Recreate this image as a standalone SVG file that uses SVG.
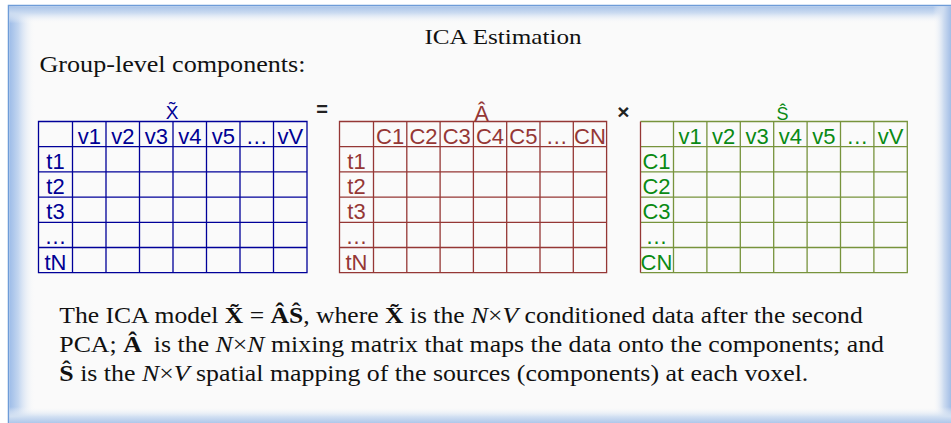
<svg xmlns="http://www.w3.org/2000/svg" width="951" height="423" viewBox="0 0 951 423">
<defs>
<linearGradient id="gL" x1="0" y1="0" x2="1" y2="0"><stop offset="0" stop-color="#9DBCE8"/><stop offset="0.35" stop-color="#C3D6F0"/><stop offset="1" stop-color="#FAFAFA" stop-opacity="0"/></linearGradient>
<linearGradient id="gT" x1="0" y1="0" x2="0" y2="1"><stop offset="0" stop-color="#A9C3E8"/><stop offset="0.4" stop-color="#CCDCF1"/><stop offset="1" stop-color="#FAFAFA" stop-opacity="0"/></linearGradient>
<linearGradient id="gR" x1="0" y1="0" x2="1" y2="0"><stop offset="0" stop-color="#FAFAFA" stop-opacity="0"/><stop offset="0.6" stop-color="#CCDBF0"/><stop offset="1" stop-color="#A3BEE6"/></linearGradient>
<linearGradient id="gB" x1="0" y1="0" x2="0" y2="1"><stop offset="0" stop-color="#FAFAFA" stop-opacity="0"/><stop offset="0.6" stop-color="#D2E0F2"/><stop offset="1" stop-color="#AFC7EA"/></linearGradient>
</defs>
<style>
.cell{font-family:"Liberation Sans Narrow","Liberation Sans",Arial,sans-serif;font-stretch:condensed;font-size:22px;text-anchor:middle}
.blue{fill:#000094}
.red{fill:#953735}
.green{fill:#0A8A14}
.gb{fill:none;stroke:#000099;stroke-width:1.3}
.gr{fill:none;stroke:#953735;stroke-width:1.3}
.gg{fill:none;stroke:#77933C;stroke-width:1.3}
.sym{font-family:"Liberation Sans",Arial,sans-serif;text-anchor:middle}
.serif{font-family:"Liberation Serif","Times New Roman",serif;fill:#111}
</style>
<rect x="0" y="0" width="951" height="423" fill="#FFFFFF"/>
<g id="frame">
<rect x="8.5" y="5.5" width="960" height="430" fill="#FAFAFA" stroke="#6E9CD8" stroke-width="1.5"/>
<rect x="9.3" y="6.3" width="26" height="417" fill="url(#gL)"/>
<rect x="9.3" y="6.3" width="942" height="17" fill="url(#gT)"/>
<rect x="933" y="6.3" width="18" height="417" fill="url(#gR)"/>
<rect x="9.3" y="407" width="942" height="16" fill="url(#gB)"/>
</g>
<g id="title">
<text class="serif" x="503" y="43.5" font-size="22" text-anchor="middle" textLength="157" lengthAdjust="spacingAndGlyphs">ICA Estimation</text>
</g>
<g id="subtitle">
<text class="serif" x="39.5" y="71.5" font-size="24" textLength="266" lengthAdjust="spacingAndGlyphs">Group-level components:</text>
</g>
<g id="matrix-X">
<text class="sym blue" x="172" y="118.5" font-size="19">X̃</text>
<path class="gb" d="M38.5,121.5H307V272.7H38.5Z M72.5,121.5V272.7 M106,121.5V272.7 M139.5,121.5V272.7 M173,121.5V272.7 M206.5,121.5V272.7 M240,121.5V272.7 M273.5,121.5V272.7 M38.5,146.7H307 M38.5,171.9H307 M38.5,197.1H307 M38.5,222.3H307 M38.5,247.5H307"/>
<g class="cell blue">
<text x="89.25" y="143.7">v1</text><text x="122.75" y="143.7">v2</text><text x="156.25" y="143.7">v3</text><text x="189.75" y="143.7">v4</text><text x="223.25" y="143.7">v5</text><text x="256.75" y="143.7">…</text><text x="290.25" y="143.7">vV</text>
<text x="55.5" y="168.8">t1</text><text x="55.5" y="194">t2</text><text x="55.5" y="219.2">t3</text><text x="55.5" y="244.4">…</text><text x="55.5" y="269.6">tN</text>
</g>
</g>
<g id="op-equals"><text class="sym" x="322" y="115.5" font-size="20" font-weight="bold" fill="#222">=</text></g>
<g id="matrix-A">
<text class="sym red" x="481.5" y="120.5" font-size="22">Â</text>
<path class="gr" d="M339.5,121.5H606.6V272.7H339.5Z M373.5,121.5V272.7 M406.8,121.5V272.7 M440.1,121.5V272.7 M473.4,121.5V272.7 M506.7,121.5V272.7 M540,121.5V272.7 M573.3,121.5V272.7 M339.5,146.7H606.6 M339.5,171.9H606.6 M339.5,197.1H606.6 M339.5,222.3H606.6 M339.5,247.5H606.6"/>
<g class="cell red">
<text x="390.15" y="143.7">C1</text><text x="423.45" y="143.7">C2</text><text x="456.75" y="143.7">C3</text><text x="490.05" y="143.7">C4</text><text x="523.35" y="143.7">C5</text><text x="556.65" y="143.7">…</text><text x="589.95" y="143.7">CN</text>
<text x="356.5" y="168.8">t1</text><text x="356.5" y="194">t2</text><text x="356.5" y="219.2">t3</text><text x="356.5" y="244.4">…</text><text x="356.5" y="269.6">tN</text>
</g>
</g>
<g id="op-times"><text class="sym" x="623.5" y="118.5" font-size="21" font-weight="bold" fill="#222">×</text></g>
<g id="matrix-S">
<text class="sym green" x="782.5" y="119.5" font-size="18">Ŝ</text>
<path class="gg" d="M640.5,121.5H907.3V272.7H640.5 M673.5,121.5V272.7 M706.9,121.5V272.7 M740.3,121.5V272.7 M773.7,121.5V272.7 M807.1,121.5V272.7 M840.5,121.5V272.7 M873.9,121.5V272.7 M640.5,146.7H907.3 M640.5,171.9H907.3 M640.5,197.1H907.3 M640.5,222.3H907.3 M640.5,247.5H907.3"/>
<path d="M640.5,121.5V272.7" stroke="#953735" stroke-width="1.3" fill="none"/>
<g class="cell green">
<text x="690.2" y="143.7">v1</text><text x="723.6" y="143.7">v2</text><text x="757" y="143.7">v3</text><text x="790.4" y="143.7">v4</text><text x="823.8" y="143.7">v5</text><text x="857.2" y="143.7">…</text><text x="890.6" y="143.7">vV</text>
<text x="656.5" y="168.8">C1</text><text x="656.5" y="194">C2</text><text x="656.5" y="219.2">C3</text><text x="656.5" y="244.4">…</text><text x="656.5" y="269.6">CN</text>
</g>
</g>
<g id="connectors"></g>
<g id="caption" font-size="23">
<text class="serif" x="59.3" y="323.3" textLength="803.4" lengthAdjust="spacingAndGlyphs">The ICA model <tspan font-weight="bold">X̃</tspan> = <tspan font-weight="bold">ÂŜ</tspan>, where <tspan font-weight="bold">X̃</tspan> is the <tspan font-style="italic">N</tspan>×<tspan font-style="italic">V</tspan> conditioned data after the second</text>
<text class="serif" x="59.3" y="352" textLength="824.7" lengthAdjust="spacingAndGlyphs">PCA; <tspan font-weight="bold">Â</tspan> <tspan dx="5">is the </tspan><tspan font-style="italic">N</tspan>×<tspan font-style="italic">N</tspan> mixing matrix that maps the data onto the components; and</text>
<text class="serif" x="59.3" y="380.7" textLength="749" lengthAdjust="spacingAndGlyphs"><tspan font-weight="bold">Ŝ</tspan> is the <tspan font-style="italic">N</tspan>×<tspan font-style="italic">V</tspan> spatial mapping of the sources (components) at each voxel.</text>
</g>
</svg>
